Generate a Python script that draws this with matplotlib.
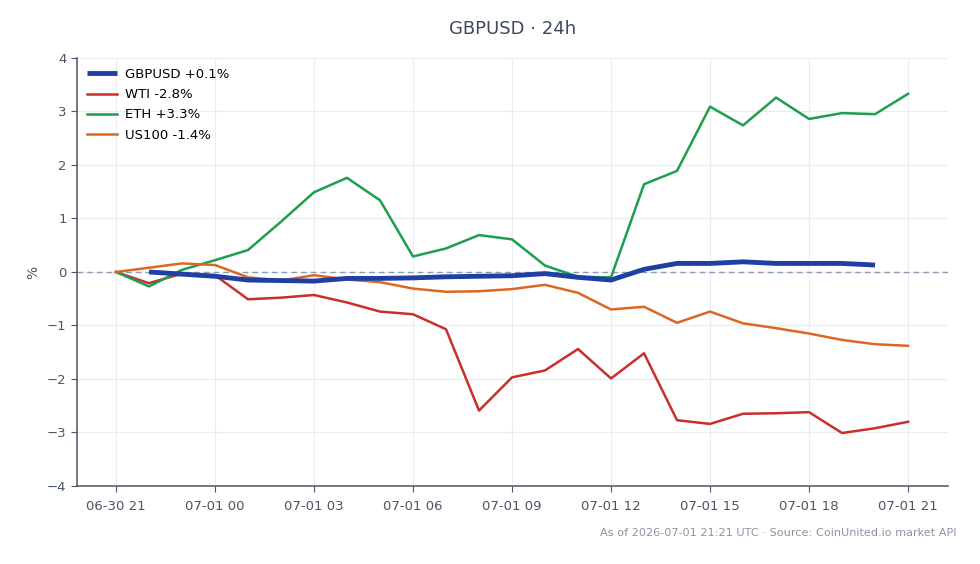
import numpy as np
import pandas as pd
import matplotlib
matplotlib.use('Agg')
import matplotlib.pyplot as plt
import matplotlib.dates as mdates

# hourly timestamps, 06-30 21:00 -> 07-01 21:00
zaman = pd.date_range('2026-06-30 21:00', periods=25, freq='h')

# % change since start
eth = [0.0, -0.27, 0.04, 0.22, 0.41, 0.94, 1.49, 1.76, 1.34, 0.29, 0.44, 0.69, 0.61,
       0.12, -0.09, -0.10, 1.64, 1.89, 3.09, 2.74, 3.26, 2.86, 2.97, 2.95, 3.33]
wti = [0.0, -0.21, -0.03, -0.06, -0.51, -0.48, -0.43, -0.57, -0.74, -0.79, -1.07, -2.59, -1.97,
       -1.84, -1.44, -1.99, -1.52, -2.77, -2.84, -2.65, -2.64, -2.62, -3.01, -2.92, -2.80]
us100 = [0.0, 0.08, 0.16, 0.13, -0.10, -0.16, -0.06, -0.14, -0.19, -0.31, -0.37, -0.36, -0.32,
         -0.24, -0.39, -0.70, -0.65, -0.95, -0.74, -0.96, -1.05, -1.15, -1.27, -1.35, -1.38]
# GBPUSD only has 06-30 22:00 -> 07-01 20:00
gbpusd = [0.0, -0.04, -0.08, -0.15, -0.16, -0.17, -0.12, -0.12, -0.11, -0.09, -0.08, -0.07,
          -0.03, -0.10, -0.15, 0.05, 0.16, 0.16, 0.19, 0.16, 0.16, 0.16, 0.13]
gbpusd_zaman = zaman[1:24]

etiketler = ['GBPUSD +0.1%', 'WTI -2.8%', 'ETH +3.3%', 'US100 -1.4%']
renkler = ['#1f3fa3', '#c9302c', '#1e9e4f', '#dd6722']

fig = plt.figure(figsize=(9.8, 5.64), dpi=100)
ax = fig.add_axes([0.0786, 0.1383, 0.8884, 0.7589])

ax.axhline(0, color='#8a9bb0', lw=1, ls=(0, (4, 3)), zorder=1)
ax.plot(gbpusd_zaman, gbpusd, color=renkler[0], lw=3.5, label=etiketler[0], zorder=5, solid_capstyle='butt')
ax.plot(zaman, wti, color=renkler[1], lw=1.8, label=etiketler[1], zorder=3)
ax.plot(zaman, eth, color=renkler[2], lw=1.8, label=etiketler[2], zorder=3)
ax.plot(zaman, us100, color=renkler[3], lw=1.8, label=etiketler[3], zorder=3)

bir_saat = pd.Timedelta(hours=1)
ax.set_xlim(zaman[0] - 1.18 * bir_saat, zaman[-1] + 1.2 * bir_saat)
ax.set_ylim(-4, 4)
ax.set_yticks(range(-4, 5))
ax.xaxis.set_major_locator(mdates.HourLocator(byhour=range(0, 24, 3)))
ax.xaxis.set_major_formatter(mdates.DateFormatter('%m-%d %H'))

ax.grid(True, color='#e9edf1', lw=0.8)
ax.set_axisbelow(True)
for s in ['top', 'right']:
    ax.spines[s].set_visible(False)
for s in ['left', 'bottom']:
    ax.spines[s].set_color('#4a5565')
    ax.spines[s].set_linewidth(1.1)
ax.tick_params(colors='#4a5565', labelsize=9.5, length=4)
ax.tick_params(axis='x', pad=6)

ax.set_ylabel('%', color='#4a5565', fontsize=10, labelpad=5)
ax.set_title('GBPUSD · 24h', color='#3d4a5c', fontsize=13, pad=17)

leg = ax.legend(loc='upper left', frameon=False, fontsize=9.5, handlelength=2.27,
                handletextpad=0.6, borderaxespad=0.35, labelspacing=0.55,
                bbox_to_anchor=(0.0, 1.0))

fig.text(0.976, 0.055, 'As of 2026-07-01 21:21 UTC · Source: CoinUnited.io market API',
         ha='right', va='center', fontsize=8.15, color='#8a94a3')

fig.savefig('out.png', dpi=100)
